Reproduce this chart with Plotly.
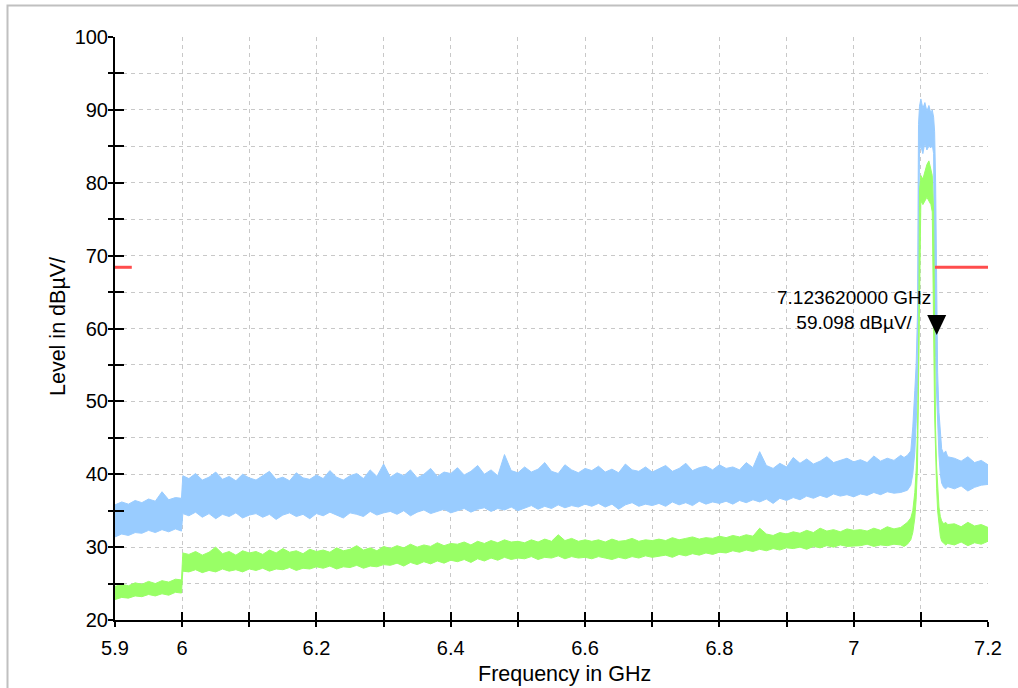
import plotly.graph_objects as go

# ---------------- data ----------------
FREQ_A = [5.90, 5.91, 5.92, 5.93, 5.94, 5.95, 5.96, 5.97, 5.98, 5.99, 5.999]
FREQ_B = [6.001,
          6.01, 6.02, 6.03, 6.04, 6.05, 6.06, 6.07, 6.08, 6.09, 6.10,
          6.11, 6.12, 6.13, 6.14, 6.15, 6.16, 6.17, 6.18, 6.19, 6.20,
          6.21, 6.22, 6.23, 6.24, 6.25, 6.26, 6.27, 6.28, 6.29, 6.30,
          6.31, 6.32, 6.33, 6.34, 6.35, 6.36, 6.37, 6.38, 6.39, 6.40,
          6.41, 6.42, 6.43, 6.44, 6.45, 6.46, 6.47, 6.48, 6.49, 6.50,
          6.51, 6.52, 6.53, 6.54, 6.55, 6.56, 6.57, 6.58, 6.59, 6.60,
          6.61, 6.62, 6.63, 6.64, 6.65, 6.66, 6.67, 6.68, 6.69, 6.70,
          6.71, 6.72, 6.73, 6.74, 6.75, 6.76, 6.77, 6.78, 6.79, 6.80,
          6.81, 6.82, 6.83, 6.84, 6.85, 6.86, 6.87, 6.88, 6.89, 6.90,
          6.91, 6.92, 6.93, 6.94, 6.95, 6.96, 6.97, 6.98, 6.99, 7.00,
          7.01, 7.02, 7.03, 7.04, 7.05, 7.06, 7.07]
FREQ_C = [7.075, 7.080, 7.085, 7.088, 7.091, 7.093, 7.095, 7.0965, 7.098, 7.100,
          7.103, 7.106, 7.109, 7.112, 7.115, 7.117, 7.119, 7.1205, 7.122, 7.1235,
          7.125, 7.127, 7.129, 7.131, 7.134, 7.137, 7.140]
FREQ_D = [7.15, 7.16, 7.17, 7.18, 7.19, 7.20]
FREQ = FREQ_A + FREQ_B + FREQ_C + FREQ_D

# Max-hold trace (light blue): upper and lower envelope of the noise band
BLUE_MAX = [35.8, 36.2, 35.9, 36.4, 36.1, 36.6, 36.3, 37.6, 36.5, 36.8, 36.7,
            39.8,
            39.4, 40.1, 39.2, 39.6, 40.3, 39.3, 39.7, 39.1, 40.0, 39.5,
            39.2, 39.8, 40.4, 39.3, 39.6, 39.1, 40.2, 39.5, 39.3, 39.9,
            39.4, 40.5, 39.6, 39.2, 39.8, 40.1, 39.4, 40.6, 39.7, 41.4,
            39.6, 40.2, 39.8, 40.6, 39.5, 40.0, 40.8, 39.7, 40.3, 40.1,
            40.9, 39.9, 40.4, 41.2, 40.0, 40.6, 39.8, 42.7, 40.5, 40.2,
            41.0, 40.3, 40.7, 41.6, 40.4, 40.1, 41.3, 40.6, 40.2, 40.8,
            40.5, 41.1, 40.3, 40.7, 40.2, 41.4, 40.6, 40.4, 41.0, 40.3,
            40.7, 41.2, 40.4, 40.8, 41.5, 40.5, 40.9, 41.1, 40.6, 41.3,
            40.8, 41.0, 40.6, 41.6, 40.9, 43.1, 41.2, 40.8, 41.5, 41.0,
            42.3, 41.5, 42.1, 41.4, 41.8, 42.4, 41.6, 41.9, 42.2, 41.7,
            42.0, 41.6, 42.5, 41.8, 42.2, 41.9, 42.6,
            42.3, 42.6, 43.2, 46.5, 51.5, 55.0, 62.0, 88.0, 90.5, 91.5,
            90.2, 91.0, 89.8, 90.6, 89.5, 90.0, 89.0, 87.0, 80.0, 62.0,
            54.0, 48.5, 45.5, 43.5, 42.8, 43.2, 42.4,
            42.2, 41.8, 42.4, 41.6, 41.9, 41.3]
BLUE_MIN = [31.4, 31.8, 31.6, 32.0, 31.9, 32.3, 32.0, 32.4, 32.1, 32.5, 32.2,
            34.6,
            34.3, 34.8, 34.1, 34.6, 33.9, 34.5, 34.2, 34.7, 34.0, 34.4,
            34.6, 34.1, 34.5, 33.8, 34.4, 34.7, 34.2, 34.5, 33.9, 34.6,
            34.3, 34.8, 34.4, 34.0, 34.7, 34.5, 34.2, 34.9, 34.4, 34.7,
            34.9, 34.5, 35.0, 34.3, 34.8, 35.1, 34.6, 34.9, 35.2, 34.7,
            35.0, 35.3, 34.8, 35.2, 35.4, 34.9, 35.3, 35.1, 35.5, 35.0,
            35.4, 35.7, 35.2, 35.6, 35.3, 35.8, 35.4, 35.7, 35.5, 35.9,
            35.6, 36.0, 35.5, 35.9, 35.2, 35.8, 36.1, 35.6, 35.9, 35.7,
            36.0, 35.6, 36.2, 35.8, 36.1, 35.7, 36.3, 35.9, 36.2, 36.0,
            36.3, 35.9, 36.4, 36.1, 36.5, 36.2, 36.6, 36.0, 36.7, 36.4,
            36.8, 36.5, 37.0, 36.7, 37.1, 36.8, 37.3, 37.0, 37.2, 36.9,
            37.3, 37.1, 37.5, 37.2, 37.6, 37.4, 37.5,
            37.6, 37.8, 38.5, 40.0, 43.0, 47.0, 52.0, 62.0, 84.5, 85.0,
            84.0, 85.5, 84.5, 85.0, 84.8, 85.2, 84.0, 62.0, 56.0, 51.0,
            46.5, 42.5, 40.0, 38.8, 38.2, 38.0, 38.3,
            38.0, 38.4, 37.7, 38.2, 38.5, 38.6]

# Average trace (light green): upper and lower envelope of the noise band
GREEN_MAX = [24.6, 24.9, 24.7, 25.1, 24.9, 25.3, 25.0, 25.4, 25.2, 25.6, 25.5,
             29.2,
             29.0, 29.4, 28.9, 29.3, 30.0, 29.1, 29.4, 28.9, 29.5, 29.2,
             29.4, 29.0, 29.6, 29.2, 29.8, 29.3, 29.5, 29.1, 29.7, 29.4,
             29.6, 29.3, 29.9, 29.5, 29.7, 30.2, 29.6, 29.9, 29.5, 30.1,
             29.8, 30.2, 29.9, 30.4, 30.0, 30.3, 30.1, 30.6, 30.2, 30.5,
             30.4, 30.7, 30.3, 30.8, 30.5, 30.9, 30.6, 31.0, 30.7, 30.8,
             30.6, 31.0, 30.7, 31.1, 30.8, 31.7, 30.9, 31.2, 30.8, 31.0,
             30.8, 31.0, 30.7, 31.1, 30.8, 30.9, 31.2, 30.8, 31.0, 30.9,
             31.1, 30.9, 31.3, 31.0, 31.2, 31.4, 31.1, 31.3, 31.2, 31.5,
             31.3, 31.6, 31.4, 31.7, 31.5, 32.6, 31.8, 31.6, 32.0, 31.8,
             32.1, 31.9, 32.3, 32.0, 32.6, 32.2, 32.4, 32.1, 32.5, 32.3,
             32.4, 32.2, 32.6, 32.3, 32.8, 32.5, 32.7,
             33.0, 33.4, 34.0, 35.0, 37.5, 40.5, 46.0, 55.0, 79.0, 81.0,
             80.5, 81.5, 82.5, 83.0, 82.0, 81.0, 76.0, 55.0, 46.0, 41.0,
             38.0, 35.5, 34.2, 33.6, 33.2, 33.4, 33.1,
             33.2, 32.8, 33.4, 32.9, 33.1, 32.7]
GREEN_MIN = [22.8, 23.1, 23.0, 23.3, 23.2, 23.5, 23.3, 23.6, 23.4, 23.8, 23.7,
             26.7,
             26.6, 26.9, 26.5, 26.8, 26.6, 27.0, 26.7, 26.9, 26.6, 27.0,
             26.8, 27.1, 26.7, 27.0, 26.9, 27.2, 26.8, 27.1, 27.0, 27.3,
             27.1, 27.4, 27.0, 27.3, 27.2, 27.5, 27.1, 27.4, 27.3, 27.6,
             27.5, 27.8, 27.4, 27.9, 27.6, 28.0, 27.7, 28.1, 27.8, 28.2,
             28.0, 28.3, 27.9, 28.4, 28.1, 28.5, 28.2, 28.6, 28.3, 28.5,
             28.4, 28.7, 28.3, 28.6, 28.5, 28.8, 28.4, 28.7, 28.5, 28.6,
             28.4, 28.7, 28.5, 28.3, 28.6, 28.4, 28.7, 28.5, 28.8, 28.6,
             28.7, 28.9, 28.6, 29.0, 28.8, 29.1, 28.9, 29.2, 29.0, 29.3,
             29.2, 29.5, 29.3, 29.6, 29.4, 29.7, 29.5, 29.8, 29.6, 29.9,
             29.8, 30.0, 29.7, 30.1, 29.9, 30.2, 30.0, 30.3, 30.1, 30.2,
             30.2, 30.4, 30.1, 30.3, 30.2, 30.4, 30.3,
             30.1, 30.4, 31.0, 32.0, 34.0, 36.5, 41.0, 50.0, 62.0, 77.5,
             77.0, 77.5, 78.0, 77.5, 77.0, 76.0, 60.0, 48.0, 42.0, 38.0,
             35.0, 33.0, 31.5, 30.8, 30.5, 30.3, 30.5,
             30.3, 30.7, 30.2, 30.6, 30.4, 30.8]

LIMIT_LEVEL = 68.4
LIMIT_LEFT_FREQ = [5.9, 5.925]
LIMIT_RIGHT_FREQ = [7.121, 7.2]

MARKER_FREQ = 7.12362
MARKER_LEVEL = 59.098
MARKER_TEXT = "7.123620000 GHz<br>59.098 dBµV/"

Y_TICKS = [20, 25, 30, 35, 40, 45, 50, 55, 60, 65, 70, 75, 80, 85, 90, 95, 100]
Y_TICK_TEXT = ["20", "", "30", "", "40", "", "50", "", "60", "", "70", "", "80", "", "90", "", "100"]
X_TICKS = [5.9, 6.0, 6.1, 6.2, 6.3, 6.4, 6.5, 6.6, 6.7, 6.8, 6.9, 7.0, 7.1, 7.2]
X_TICK_TEXT = ["5.9", "6", "", "6.2", "", "6.4", "", "6.6", "", "6.8", "", "7", "", "7.2"]

X_TITLE = "Frequency in GHz"
Y_TITLE = "Level in dBµV/"

X_RANGE = [5.9, 7.2]
Y_RANGE = [20, 100]

# ---------------- styles ----------------
BLUE = "#99ccff"
GREEN = "#99ff66"
RED = "#ff4d4d"
GRID = "#c8c8c8"
FONT = "Liberation Sans, Arial, sans-serif"
FS = 20
FS_ANN = 19
FS_TITLE = 21.5

fig = go.Figure()


def band(upper, lower, color):
    return go.Scatter(
        x=FREQ + FREQ[::-1],
        y=upper + lower[::-1],
        fill="toself",
        fillcolor=color,
        mode="lines",
        line=dict(color=color, width=1),
        hoverinfo="skip",
        showlegend=False,
    )


fig.add_trace(band(BLUE_MAX, BLUE_MIN, BLUE))
fig.add_trace(band(GREEN_MAX, GREEN_MIN, GREEN))

for seg in (LIMIT_LEFT_FREQ, LIMIT_RIGHT_FREQ):
    fig.add_trace(go.Scatter(x=seg, y=[LIMIT_LEVEL] * len(seg), mode="lines",
                             line=dict(color=RED, width=3), showlegend=False,
                             hoverinfo="skip"))

# dummy traces so the overlay axes (used for the inner tick halves) get drawn
fig.add_trace(go.Scatter(x=[], y=[], xaxis="x2", yaxis="y", showlegend=False))
fig.add_trace(go.Scatter(x=[], y=[], xaxis="x", yaxis="y2", showlegend=False))

axis_common = dict(
    showline=True, linecolor="black", linewidth=2,
    ticks="outside", ticklen=5, tickwidth=2, tickcolor="black",
    showgrid=True, gridcolor=GRID, gridwidth=1, griddash="4px,4px",
    zeroline=False, tickfont=dict(family=FONT, size=FS, color="black"),
    mirror=False, automargin=False,
)

fig.update_layout(
    width=1018, height=688,
    margin=dict(l=115, r=30, t=37, b=68, autoexpand=False),
    paper_bgcolor="white", plot_bgcolor="white",
    font=dict(family=FONT, size=FS, color="black"),
    showlegend=False,
    xaxis=dict(range=X_RANGE, tickmode="array", tickvals=X_TICKS, ticktext=X_TICK_TEXT,
               ticklabelstandoff=4,
               **axis_common),
    yaxis=dict(range=Y_RANGE, tickmode="array", tickvals=Y_TICKS, ticktext=Y_TICK_TEXT,
               ticklabelstandoff=-4,
               **axis_common),
    xaxis2=dict(range=X_RANGE, overlaying="x", anchor="y", side="bottom",
                tickmode="array", tickvals=X_TICKS, ticks="inside", ticklen=8,
                tickwidth=2, tickcolor="black", showticklabels=False,
                showgrid=False, showline=False, zeroline=False),
    yaxis2=dict(range=Y_RANGE, overlaying="y", anchor="x", side="left",
                tickmode="array", tickvals=Y_TICKS, ticks="inside", ticklen=9,
                tickwidth=2, tickcolor="black", showticklabels=False,
                showgrid=False, showline=False, zeroline=False),
)

# axis titles (placed as paper annotations so the plot area stays fixed)
fig.add_annotation(x=(564 - 115) / 873, y=(620 - 674) / 583, xref="paper", yref="paper",
                   text=X_TITLE, showarrow=False, xanchor="center", yanchor="middle",
                   font=dict(family=FONT, size=FS_TITLE, color="black"))
fig.add_annotation(x=(58 - 115) / 873, y=(620 - 327) / 583, xref="paper", yref="paper",
                   text=Y_TITLE, showarrow=False, xanchor="center", yanchor="middle",
                   textangle=-90,
                   font=dict(family=FONT, size=FS_TITLE, color="black"))

# marker triangle (pixel-sized, tip at the marker point) and its label
fig.add_shape(type="path", xref="x", yref="y",
              xsizemode="pixel", ysizemode="pixel",
              xanchor=MARKER_FREQ, yanchor=MARKER_LEVEL,
              path="M -9.5 20 L 9.5 20 L 0 0 Z",
              fillcolor="black", line=dict(color="black", width=0))
fig.add_annotation(x=MARKER_FREQ, y=MARKER_LEVEL, xref="x", yref="y",
                   text=MARKER_TEXT, showarrow=False, align="center",
                   xanchor="right", yanchor="bottom", xshift=-4, yshift=0,
                   font=dict(family=FONT, size=FS_ANN, color="black"))

# outer frame of the picture (light grey, only top/left fall inside the image)
fig.add_shape(type="rect", xref="paper", yref="paper",
              x0=(7.5 - 115) / 873, x1=1.06, y0=-0.2, y1=(620 - 5.5) / 583,
              line=dict(color="#c0c0c0", width=2), fillcolor="rgba(0,0,0,0)",
              layer="below")

fig.write_html("out.html")
